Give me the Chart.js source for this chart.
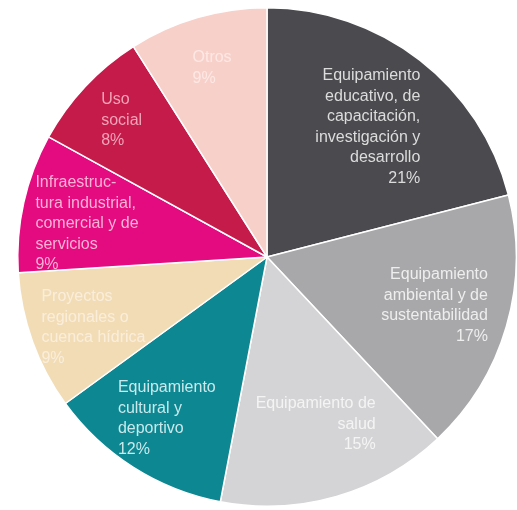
<!DOCTYPE html>
<html>
<head>
<meta charset="utf-8">
<script src="https://cdn.jsdelivr.net/npm/chart.js@4/dist/chart.umd.min.js"></script>
<style>
  html, body { margin: 0; padding: 0; background: #fff; }
  #pie { display: block; }
</style>
</head>
<body>
<canvas id="pie" width="517" height="510"></canvas>
<script>
// share of projects by type, in percent
const categories = [
    'Equipamiento educativo, de capacitación, investigación y desarrollo',
    'Equipamiento ambiental y de sustentabilidad',
    'Equipamiento de salud',
    'Equipamiento cultural y deportivo',
    'Proyectos regionales o cuenca hídrica',
    'Infraestructura industrial, comercial y de servicios',
    'Uso social',
    'Otros'
];
const shares = [21, 17, 15, 12, 9, 9, 8, 9];

// how each label is broken into lines inside its slice
const labelLines = [
    ['Equipamiento', 'educativo, de', 'capacitación,', 'investigación y', 'desarrollo'],
    ['Equipamiento', 'ambiental y de', 'sustentabilidad'],
    ['Equipamiento de', 'salud'],
    ['Equipamiento', 'cultural y', 'deportivo'],
    ['Proyectos', 'regionales o', 'cuenca hídrica'],
    ['Infraestruc-', 'tura industrial,', 'comercial y de', 'servicios'],
    ['Uso', 'social'],
    ['Otros']
];

const sliceColors = ['#4b4b4f', '#a8a8ab', '#d4d4d6', '#0d8791', '#f1dcb6', '#e40a7f', '#c41b4b', '#f8d0ca'];
const textColors = ['#dcdcdc', '#eeeeee', '#f4f4f4', '#c9e9ec', '#faeedb', '#f9b3d6', '#f0a3b6', '#fde8e4'];
const labelAlign = ['right', 'right', 'right', 'left', 'left', 'left', 'left', 'left'];
// label block centre as a fraction of the radius, plus a small vertical nudge
const labelRadius = [0.66, 0.70, 0.70, 0.75, 0.74, 0.74, 0.80, 0.79];
const labelDy = [0, 0, 0, 4, 8, 7, 0, 0];

const sliceLabels = {
    id: 'sliceLabels',
    afterDatasetsDraw(chart) {
        const ctx = chart.ctx;
        const meta = chart.getDatasetMeta(0);
        ctx.save();
        ctx.font = '16px "Liberation Sans", Arial, sans-serif';
        ctx.textBaseline = 'middle';
        const lineH = 20.5;
        meta.data.forEach((arc, i) => {
            const p = arc.getProps(['x', 'y', 'startAngle', 'endAngle', 'outerRadius'], true);
            const mid = (p.startAngle + p.endAngle) / 2;
            const cx = p.x + Math.cos(mid) * p.outerRadius * labelRadius[i];
            const cy = p.y + Math.sin(mid) * p.outerRadius * labelRadius[i] + labelDy[i];
            const lines = labelLines[i].concat(shares[i] + '%');
            const w = Math.max(...lines.map(l => ctx.measureText(l).width));
            const top = cy - (lines.length - 1) * lineH / 2;
            ctx.fillStyle = textColors[i];
            ctx.textAlign = labelAlign[i];
            let x = cx;
            if (labelAlign[i] === 'right') x = cx + w / 2;
            if (labelAlign[i] === 'left') x = cx - w / 2;
            lines.forEach((l, k) => ctx.fillText(l, x, top + k * lineH));
        });
        ctx.restore();
    }
};

new Chart(document.getElementById('pie'), {
    type: 'pie',
    data: {
        labels: categories,
        datasets: [{
            data: shares,
            backgroundColor: sliceColors,
            borderColor: '#ffffff',
            borderWidth: 1.5
        }]
    },
    options: {
        responsive: false,
        animation: false,
        layout: { padding: { left: 17, right: 0, top: 7, bottom: 3 } },
        plugins: {
            legend: { display: false },
            tooltip: { enabled: false }
        }
    },
    plugins: [sliceLabels]
});
</script>
</body>
</html>
